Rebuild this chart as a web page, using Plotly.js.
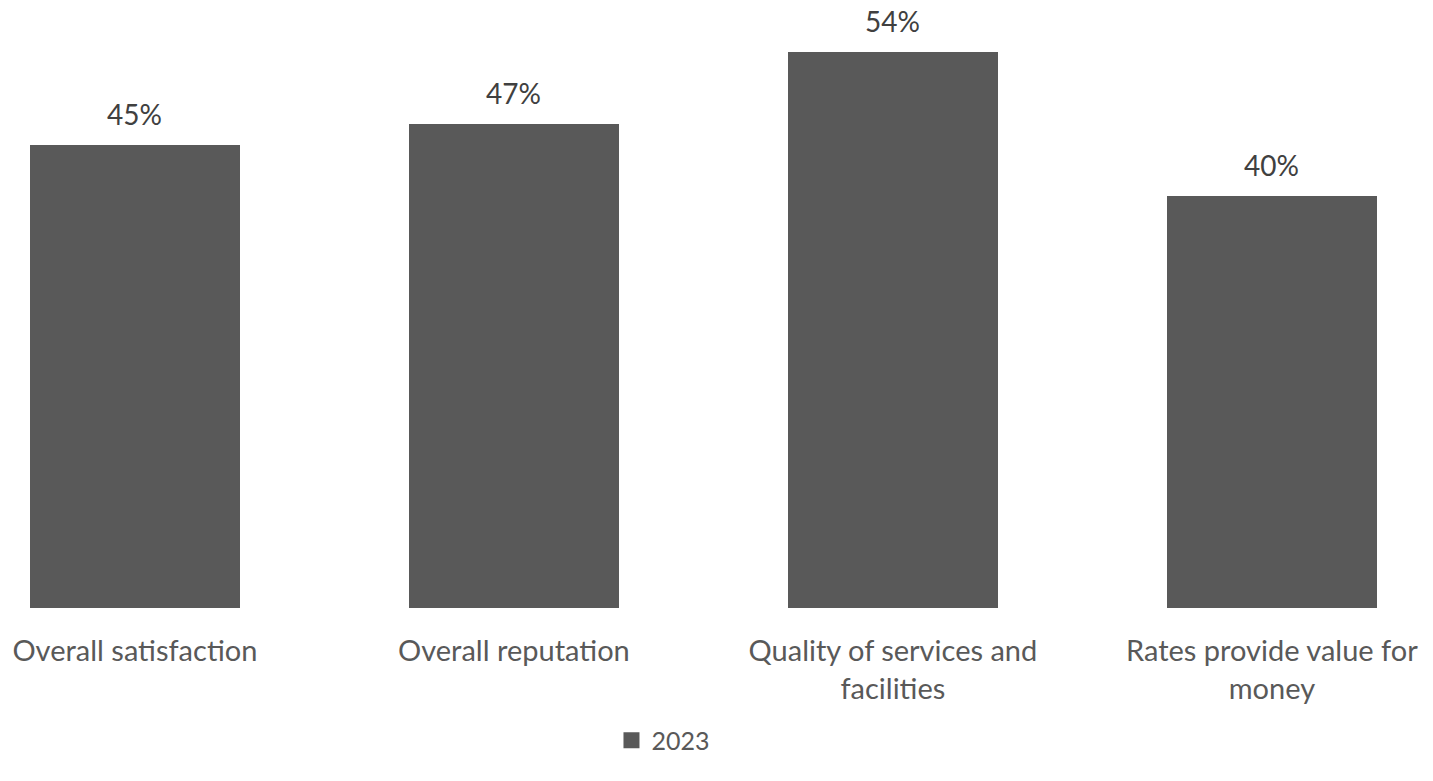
<!DOCTYPE html>
<html>
<head>
<meta charset="utf-8">
<script src="https://cdn.plot.ly/plotly-3.0.1.min.js"></script>
<style>html,body{margin:0;padding:0;background:#fff;}#chart{width:1433px;height:781px;}</style>
</head>
<body>
<div id="chart"></div>
<script>
const categories = ["Overall satisfaction", "Overall reputation", "Quality of services and<br>facilities", "Rates provide value for<br>money"];
const values2023 = [45, 47, 54, 40];
const seriesName = "2023";

const xIdx = categories.map((c, i) => i);
const fontFam = "Lato, 'Open Sans', sans-serif";
const textColor = "#595959";
const barColor = "#595959";

const trace = {
  type: "bar",
  x: xIdx,
  y: values2023,
  name: seriesName,
  width: 0.554,
  marker: {color: barColor},
  showlegend: false,
  legendgroup: "s",
  hoverinfo: "none"
};

// legend entry with a larger square swatch
const legendTrace = {
  type: "scatter",
  mode: "markers",
  x: [null], y: [null],
  name: seriesName,
  legendgroup: "s",
  marker: {symbol: "square", size: 16, color: barColor},
  showlegend: true,
  hoverinfo: "none"
};

const annotations = values2023.map((v, i) => ({
  x: i, y: v, xref: "x", yref: "y",
  text: v + "%",
  showarrow: false,
  yanchor: "bottom",
  yshift: 12,
  font: {family: fontFam, size: 28, color: "#404040"}
}));

const layout = {
  width: 1433, height: 781,
  margin: {l: 0, r: 0, t: 0, b: 173},
  paper_bgcolor: "#fff", plot_bgcolor: "#fff",
  bargap: 0,
  xaxis: {
    range: [-0.356, 3.425],
    tickmode: "array", tickvals: xIdx, ticktext: categories,
    showgrid: false, zeroline: false, showline: false, ticks: "",
    ticklabelstandoff: 23,
    tickfont: {family: fontFam, size: 29, color: textColor},
    fixedrange: true
  },
  yaxis: {
    range: [0, 59.09],
    visible: false, showgrid: false, zeroline: false,
    fixedrange: true
  },
  showlegend: true,
  legend: {
    orientation: "h", x: 0.463, xanchor: "center", y: -0.18, yanchor: "top",
    font: {family: fontFam, size: 25, color: textColor},
    itemsizing: "trace",
    itemwidth: 30
  },
  annotations: annotations
};

Plotly.newPlot("chart", [trace, legendTrace], layout, {displayModeBar: false, staticPlot: true});
</script>
</body>
</html>
